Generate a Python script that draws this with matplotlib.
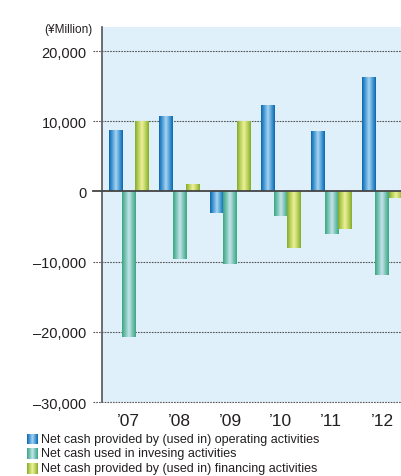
import numpy as np
import matplotlib
matplotlib.use("Agg")
import matplotlib.pyplot as plt
from matplotlib.colors import LinearSegmentedColormap
from matplotlib.ticker import FixedLocator

plt.rcParams['font.family'] = ['Liberation Sans', 'DejaVu Sans']

years = ["’07", "’08", "’09", "’10", "’11", "’12"]
operating = [8700, 10700, -3100, 12300, 8600, 16300]
investing = [-20800, -9600, -10400, -3500, -6000, -11900]
financing = [10000, 1000, 10000, -8000, -5400, -900]
series_labels = ["Net cash provided by (used in) operating activities",
                 "Net cash used in invesing activities",
                 "Net cash provided by (used in) financing activities"]
yticks = [20000, 10000, 0, -10000, -20000, -30000]
ytick_labels = ["20,000", "10,000", "0", "–10,000", "–20,000", "–30,000"]

# dark edge -> light centre -> dark edge
palettes = [
    ["#0a68b0", "#4f9fd8", "#a9d3f0", "#4f9fd8", "#0a68b0"],
    ["#3aa884", "#7cc4b4", "#c4e4ee", "#7cc4b4", "#3aa884"],
    ["#86ab2c", "#bcd460", "#eef09a", "#bcd460", "#86ab2c"],
]
cmaps = [LinearSegmentedColormap.from_list("c%d" % i, p) for i, p in enumerate(palettes)]
grad = np.linspace(0, 1, 64).reshape(1, -1)

fig = plt.figure(figsize=(4.01, 4.77), dpi=100)
ax = fig.add_axes([0.254, 0.155, 0.746, 0.786])
ax.set_facecolor("#dff0fa")

x = np.arange(len(years))
w = 0.262
for k, vals in enumerate([operating, investing, financing]):
    bars = ax.bar(x + (k - 1) * w, vals, w, color=palettes[k][0], linewidth=0, zorder=2)
    for b in bars:
        x0, y0 = b.get_x(), b.get_y()
        im = ax.imshow(grad, cmap=cmaps[k], aspect="auto", zorder=3,
                       extent=[x0, x0 + b.get_width(), y0, y0 + b.get_height()])
        im.set_clip_path(b)

ax.set_xlim(-0.53, 5.375)
ax.set_ylim(-30000, 23400)

# dotted gridlines extending a little past the spine
for v in yticks:
    if v == 0:
        continue
    ax.plot([-0.03, 1], [v, v], transform=ax.get_yaxis_transform(), color="#555555",
            lw=0.8, ls=(0, (1.5, 1)), clip_on=False, zorder=1)
ax.plot([-0.03, 1], [0, 0], transform=ax.get_yaxis_transform(), color="#444444",
        lw=1.3, clip_on=False, zorder=4)

for s in ["top", "right", "bottom"]:
    ax.spines[s].set_visible(False)
ax.spines["left"].set_color("#555555")
ax.spines["left"].set_linewidth(1.2)

ax.yaxis.set_major_locator(FixedLocator(yticks))
ax.set_yticklabels(ytick_labels, fontsize=10.5, color="#231f20")
ax.tick_params(axis="y", length=0, pad=11)
ax.set_xticks(x)
ax.set_xticklabels(years, fontsize=12.5, color="#231f20")
ax.tick_params(axis="x", length=0, pad=8)

fig.text(0.23, 0.937, "(¥Million)", fontsize=8.5, ha="right", va="center", color="#231f20")

# legend
for k, lab in enumerate(series_labels):
    yc = 1 - (440 + k * 14.5) / 477
    sw = fig.add_axes([27 / 401, yc - 5.5 / 477, 11 / 401, 11 / 477])
    sw.imshow(grad, cmap=cmaps[k], aspect="auto")
    sw.axis("off")
    fig.text(41 / 401, yc, lab, fontsize=9, va="center", color="#231f20")

fig.savefig("out.png", dpi=100)
